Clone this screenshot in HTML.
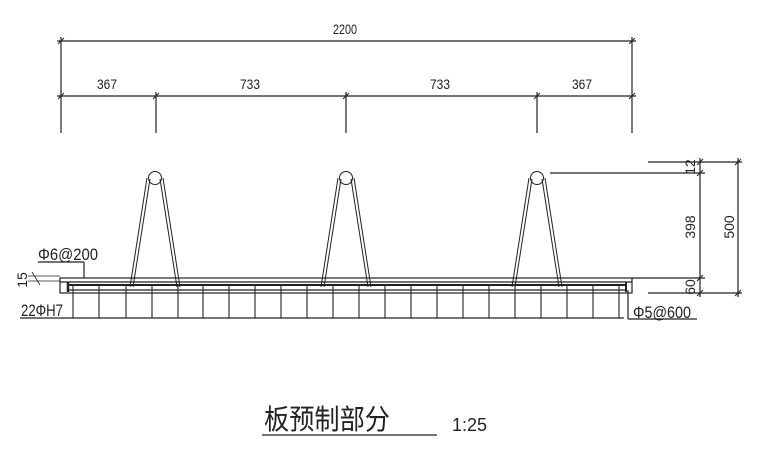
<!DOCTYPE html>
<html><head><meta charset="utf-8"><style>
html,body{margin:0;padding:0;background:#fff;}
svg{display:block;}
text{font-family:"Liberation Sans","Noto Sans CJK SC",sans-serif;fill:#222;}
</style></head><body>
<svg width="768" height="458" viewBox="0 0 768 458" xmlns="http://www.w3.org/2000/svg">
<g stroke="#222" stroke-width="1.2" fill="none">
<line x1="57" y1="41" x2="636" y2="41"/>
<line x1="57" y1="96" x2="636" y2="96"/>
<line x1="61" y1="37" x2="61" y2="133"/>
<line x1="632" y1="37" x2="632" y2="133"/>
<line x1="156" y1="92" x2="156" y2="133"/>
<line x1="346" y1="92" x2="346" y2="133"/>
<line x1="537" y1="92" x2="537" y2="133"/>
<g stroke-width="1">
<line x1="58" y1="44" x2="64" y2="38"/><line x1="629" y1="44" x2="635" y2="38"/>
<line x1="58" y1="99" x2="64" y2="93"/><line x1="153" y1="99" x2="159" y2="93"/>
<line x1="343" y1="99" x2="349" y2="93"/><line x1="534" y1="99" x2="540" y2="93"/>
<line x1="629" y1="99" x2="635" y2="93"/>
</g>
<line x1="648" y1="162" x2="742" y2="162"/>
<line x1="550" y1="173" x2="705" y2="173"/>
<line x1="632" y1="278" x2="705" y2="278"/>
<line x1="648" y1="293" x2="742" y2="293"/>
<line x1="700" y1="158" x2="700" y2="297"/>
<line x1="738" y1="158" x2="738" y2="297"/>
<g stroke-width="1">
<line x1="697" y1="165" x2="703" y2="159"/><line x1="697" y1="176" x2="703" y2="170"/>
<line x1="697" y1="281" x2="703" y2="275"/><line x1="697" y1="296" x2="703" y2="290"/>
<line x1="735" y1="165" x2="741" y2="159"/><line x1="735" y1="296" x2="741" y2="290"/>
</g>
<rect x="60" y="278" width="572" height="15"/>
<line x1="60" y1="282" x2="632" y2="282"/>
<line x1="67" y1="285" x2="627" y2="285" stroke-width="2"/>
<line x1="67" y1="290" x2="627" y2="290"/>
<line x1="68" y1="282" x2="68" y2="292" stroke-width="2.5"/>
<line x1="626" y1="282" x2="626" y2="292" stroke-width="2"/>
<line x1="20" y1="318" x2="624" y2="318"/>
<line x1="38" y1="262" x2="84" y2="262"/>
<line x1="84" y1="262" x2="84" y2="278"/>
<line x1="28" y1="276" x2="60" y2="276" stroke-width="0.8"/>
<line x1="28" y1="281" x2="60" y2="281" stroke-width="0.8"/>
<line x1="32" y1="272" x2="40" y2="285" stroke-width="0.8"/>
<line x1="628" y1="290" x2="628" y2="319"/>
<line x1="628" y1="319" x2="697" y2="319"/>
<line x1="262" y1="435" x2="437" y2="435"/>
</g>
<g stroke="#222" stroke-width="1.1" fill="none">
<line x1="73" y1="284" x2="73" y2="318"/><line x1="99" y1="284" x2="99" y2="318"/>
<line x1="126" y1="284" x2="126" y2="318"/><line x1="152" y1="284" x2="152" y2="318"/>
<line x1="178" y1="284" x2="178" y2="318"/><line x1="203" y1="284" x2="203" y2="318"/>
<line x1="229" y1="284" x2="229" y2="318"/><line x1="255" y1="284" x2="255" y2="318"/>
<line x1="281" y1="284" x2="281" y2="318"/><line x1="307" y1="284" x2="307" y2="318"/>
<line x1="333" y1="284" x2="333" y2="318"/><line x1="359" y1="284" x2="359" y2="318"/>
<line x1="385" y1="284" x2="385" y2="318"/><line x1="411" y1="284" x2="411" y2="318"/>
<line x1="437" y1="284" x2="437" y2="318"/><line x1="463" y1="284" x2="463" y2="318"/>
<line x1="489" y1="284" x2="489" y2="318"/><line x1="515" y1="284" x2="515" y2="318"/>
<line x1="541" y1="284" x2="541" y2="318"/><line x1="567" y1="284" x2="567" y2="318"/>
<line x1="593" y1="284" x2="593" y2="318"/><line x1="619" y1="284" x2="619" y2="318"/>
</g>
<g stroke="#222" stroke-width="1" fill="none">
<g id="h1">
<circle cx="155" cy="178" r="6.5"/>
<line x1="147" y1="178" x2="130" y2="287"/><line x1="150" y1="179" x2="133" y2="287"/>
<line x1="163" y1="178" x2="180" y2="287"/><line x1="160" y1="179" x2="177" y2="287"/>
</g>
<use href="#h1" x="191"/>
<use href="#h1" x="382"/>
</g>
<g font-size="14">
<text x="333" y="34" textLength="24" lengthAdjust="spacingAndGlyphs">2200</text>
<text x="97" y="89" textLength="20" lengthAdjust="spacingAndGlyphs">367</text>
<text x="240" y="89" textLength="20" lengthAdjust="spacingAndGlyphs">733</text>
<text x="430" y="89" textLength="20" lengthAdjust="spacingAndGlyphs">733</text>
<text x="572" y="89" textLength="20" lengthAdjust="spacingAndGlyphs">367</text>
</g>
<g font-size="17">
<text x="38" y="260" textLength="60" lengthAdjust="spacingAndGlyphs">Φ6@200</text>
<text x="21" y="316" textLength="42" lengthAdjust="spacingAndGlyphs">22ΦH7</text>
<text x="633" y="318" textLength="58" lengthAdjust="spacingAndGlyphs">Φ5@600</text>
</g>
<g font-size="14">
<text transform="translate(695,167) rotate(-90)" text-anchor="middle">12</text>
<text transform="translate(695,227) rotate(-90)" text-anchor="middle">398</text>
<text transform="translate(734,227) rotate(-90)" text-anchor="middle">500</text>
<text transform="translate(695,287) rotate(-90)" text-anchor="middle">60</text>
<text transform="translate(27,280) rotate(-90)" text-anchor="middle">15</text>
</g>
<text x="264" y="429" font-size="28" textLength="126" lengthAdjust="spacingAndGlyphs">板预制部分</text>
<text x="452" y="431" font-size="18">1:25</text>
</svg>
</body></html>
